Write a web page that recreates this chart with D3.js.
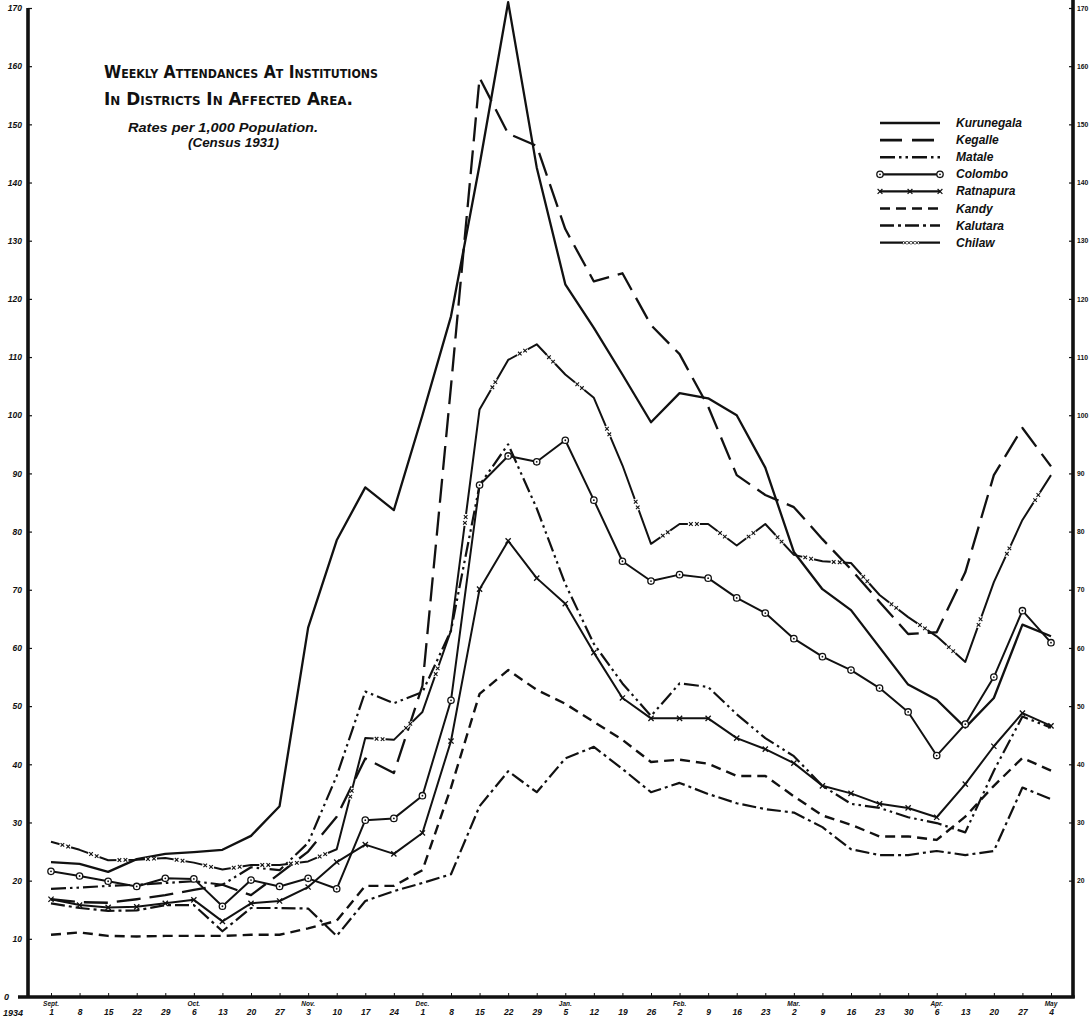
<!DOCTYPE html>
<html>
<head>
<meta charset="utf-8">
<script src="https://cdn.jsdelivr.net/npm/d3@7"></script>
<style>
  html, body { margin: 0; padding: 0; background: #fff; }
  svg { display: block; }
</style>
</head>
<body>
<svg id="chart" width="1090" height="1018"></svg>
<script>
// Week-ending dates, 1 Sept 1934 to 4 May 1935
const dayLabels = ['1','8','15','22','29','6','13','20','27','3','10','17','24','1','8','15','22','29',
  '5','12','19','26','2','9','16','23','2','9','16','23','30','6','13','20','27','4'];
const monthLabels = ['Sept.','Oct.','Nov.','Dec.','Jan.','Feb.','Mar.','Apr.','May'];
const monthStarts = [0, 5, 9, 13, 18, 22, 26, 31, 35];
const yTicks = [0,10,20,30,40,50,60,70,80,90,100,110,120,130,140,150,160,170];

// Weekly attendances per 1,000 population, by district
const kurunegala = [23.2,22.9,21.5,23.7,24.6,24.9,25.3,27.7,32.8,63.5,78.5,87.6,83.7,100,117,143,171,142.6,
  122.5,115,107,98.8,103.8,102.9,100,91,76.5,70.1,66.5,60.1,53.7,51.1,46.3,51.4,64,62];
const kegalle = [16.8,16.3,16.2,16.8,17.5,18.4,19.3,17.5,21.2,25,31,41,38.5,53.5,105,158,148.4,146.3,
  132,123,124.4,115.5,110.5,101.5,89.7,86.3,84.2,78.7,73.5,67.9,62.4,62.7,73,89.7,97.8,91.2];
const matale = [18.6,18.8,19.1,19.3,19.6,19.9,19.3,22.3,21.8,26.5,38,52.5,50.5,52.4,63,88,95,84,
  71,60.7,53.9,48.3,53.9,53.3,48.6,44.5,41.4,36.3,33.2,32.5,30.9,29.9,28.3,38.9,48.2,46.3];
const colombo = [21.6,20.8,19.9,19.0,20.4,20.3,15.6,20.1,19.0,20.4,18.6,30.4,30.7,34.6,51,88,93,92,
  95.7,85.4,74.9,71.5,72.6,72,68.6,66,61.6,58.5,56.2,53.1,49,41.5,46.9,55,66.4,60.9];
const ratnapura = [16.8,15.8,15.4,15.5,16.1,16.7,13.0,16.1,16.5,18.9,23.2,26.2,24.6,28.2,44,70.1,78.4,72,
  67.6,59.2,51.4,47.9,47.9,47.9,44.5,42.6,40.2,36.3,35,33.2,32.5,30.9,36.6,43.1,48.8,46.6];
const kandy = [10.7,11.1,10.5,10.4,10.5,10.5,10.5,10.7,10.7,11.8,13.1,19.1,19.1,21.8,36,52.1,56.2,52.8,
  50.4,47.3,44.2,40.4,40.8,40.1,38,38,34.5,31.2,29.6,27.6,27.6,27,31,36.3,41.1,38.9];
const kalutara = [16.1,15.3,14.8,14.9,15.8,15.8,11.3,15.3,15.3,15.2,10.5,16.5,18.2,19.6,21.1,32.8,38.8,35.2,
  41,43,39.2,35.2,36.8,34.9,33.3,32.3,31.7,29.2,25.4,24.4,24.4,25.1,24.4,25.1,36,34];
const chilaw = [26.7,25.3,23.5,23.6,23.9,23.1,21.9,22.7,22.7,23.3,25.4,44.5,44.2,49,63,101,109.5,112.2,
  107,103,91.4,77.9,81.3,81.3,77.6,81.3,76,74.9,74.6,69.1,65.3,62,57.6,71.3,82,89.7];

const districtNames = ['Kurunegala','Kegalle','Matale','Colombo','Ratnapura','Kandy','Kalutara','Chilaw'];
const districtValues = [kurunegala, kegalle, matale, colombo, ratnapura, kandy, kalutara, chilaw];

// Pen style for each district
const styles = {
  Kurunegala: { dash: null,               width: 2.3, marker: null },
  Kegalle:    { dash: '24,9',             width: 2.3, marker: null },
  Matale:     { dash: '15,4,2.5,4,2.5,4', width: 2.2, marker: null },
  Colombo:    { dash: null,               width: 2.0, marker: 'circle' },
  Ratnapura:  { dash: null,               width: 2.0, marker: 'cross' },
  Kandy:      { dash: '10,6',             width: 2.4, marker: null },
  Kalutara:   { dash: '14,4,3,4',         width: 2.2, marker: null },
  Chilaw:     { dash: null,               width: 2.0, marker: 'pair' }
};

const svg = d3.select('#chart');
const ink = '#111';

const x = d3.scalePoint().domain(d3.range(dayLabels.length)).range([51, 1051]);
const y = d3.scaleLinear().domain([0, 170]).range([997, 8]);

const labelFont = '"Liberation Sans", Arial, sans-serif';
const leftX = 28, rightX = 1073;

// ---- Left axis ----
const leftAxis = svg.append('g')
  .attr('transform', `translate(${leftX},0)`)
  .call(d3.axisLeft(y).tickValues(yTicks.filter(v => v > 0)).tickSize(-4).tickSizeOuter(0).tickPadding(6));
leftAxis.select('.domain').remove();
leftAxis.selectAll('.tick line').attr('stroke', ink).attr('stroke-width', 1.2);
leftAxis.selectAll('.tick text')
  .attr('font-family', labelFont).attr('font-size', 8.5).attr('font-weight', 'bold')
  .attr('font-style', 'italic').attr('fill', ink);
svg.append('line').attr('x1', leftX).attr('x2', leftX).attr('y1', y(170)).attr('y2', y(0) + 1)
  .attr('stroke', ink).attr('stroke-width', 3.6);

// ---- Right axis ----
const rightAxis = svg.append('g')
  .attr('transform', `translate(${rightX},0)`)
  .call(d3.axisRight(y).tickValues(yTicks.filter(v => v >= 20)).tickSize(-4).tickSizeOuter(0).tickPadding(4));
rightAxis.select('.domain').remove();
rightAxis.selectAll('.tick line').attr('stroke', ink).attr('stroke-width', 1.2);
rightAxis.selectAll('.tick text')
  .attr('font-family', labelFont).attr('font-size', 6.8).attr('font-weight', 'bold').attr('fill', ink);
svg.append('line').attr('x1', rightX).attr('x2', rightX).attr('y1', 0).attr('y2', y(0) + 1)
  .attr('stroke', ink).attr('stroke-width', 3.6);

// ---- Bottom axis (weeks) ----
const bottomAxis = svg.append('g')
  .attr('transform', `translate(0,${y(0)})`)
  .call(d3.axisBottom(x).tickSize(-4).tickSizeOuter(0).tickPadding(12)
    .tickFormat(i => dayLabels[i]));
bottomAxis.select('.domain').remove();
bottomAxis.selectAll('.tick line').attr('stroke', ink).attr('stroke-width', 1);
bottomAxis.selectAll('.tick text')
  .attr('font-family', labelFont).attr('font-size', 8.5).attr('font-weight', 'bold')
  .attr('font-style', 'italic').attr('fill', ink);
svg.append('line').attr('x1', 18).attr('x2', rightX + 1.8).attr('y1', y(0)).attr('y2', y(0))
  .attr('stroke', ink).attr('stroke-width', 3.6);

svg.append('g').selectAll('text').data(monthStarts).join('text')
  .attr('x', i => x(i)).attr('y', y(0) + 9)
  .attr('text-anchor', 'middle')
  .attr('font-family', labelFont).attr('font-size', 6.5).attr('font-weight', 'bold')
  .attr('font-style', 'italic').attr('fill', ink)
  .text((i, k) => monthLabels[k]);

svg.append('text').attr('x', 4).attr('y', y(0) + 3)
  .attr('font-family', labelFont).attr('font-size', 9).attr('font-weight', 'bold')
  .attr('font-style', 'italic').attr('fill', ink).text('0');
svg.append('text').attr('x', 3).attr('y', y(0) + 19)
  .attr('font-family', labelFont).attr('font-size', 9).attr('font-weight', 'bold')
  .attr('font-style', 'italic').attr('fill', ink).text('1934');

// ---- Title ----
const titleFont = '"DejaVu Sans", Verdana, sans-serif';
svg.append('text').attr('x', 104).attr('y', 78)
  .attr('font-family', titleFont).attr('font-size', 17).attr('font-weight', 'bold')
  .style('font-variant', 'small-caps').attr('fill', ink)
  .attr('textLength', 274).attr('lengthAdjust', 'spacingAndGlyphs')
  .text('Weekly Attendances At Institutions');
svg.append('text').attr('x', 104).attr('y', 105)
  .attr('font-family', titleFont).attr('font-size', 17).attr('font-weight', 'bold')
  .style('font-variant', 'small-caps').attr('fill', ink)
  .attr('textLength', 249).attr('lengthAdjust', 'spacingAndGlyphs')
  .text('In Districts In Affected Area.');
svg.append('text').attr('x', 128).attr('y', 132)
  .attr('font-family', labelFont).attr('font-size', 12.5).attr('font-style', 'italic')
  .attr('font-weight', 'bold').attr('fill', ink)
  .attr('textLength', 190).attr('lengthAdjust', 'spacingAndGlyphs')
  .text('Rates per 1,000 Population.');
svg.append('text').attr('x', 188).attr('y', 147)
  .attr('font-family', labelFont).attr('font-size', 12.5).attr('font-style', 'italic')
  .attr('font-weight', 'bold').attr('fill', ink)
  .attr('textLength', 91).attr('lengthAdjust', 'spacingAndGlyphs')
  .text('(Census 1931)');

// ---- Markers ----
function drawCross(g, cx, cy, r, sw) {
  g.append('path')
    .attr('d', `M${cx - r},${cy - r}L${cx + r},${cy + r}M${cx - r},${cy + r}L${cx + r},${cy - r}`)
    .attr('stroke', ink).attr('stroke-width', sw).attr('fill', 'none');
}
function drawCircle(g, cx, cy) {
  g.append('circle').attr('cx', cx).attr('cy', cy).attr('r', 3.2)
    .attr('fill', '#fff').attr('stroke', ink).attr('stroke-width', 1.3);
  g.append('circle').attr('cx', cx).attr('cy', cy).attr('r', 0.9).attr('fill', ink);
}

// ---- District lines ----
const line = d3.line().x((d, i) => x(i)).y(d => y(d));
const plot = svg.append('g');

districtNames.forEach((name, k) => {
  const vals = districtValues[k];
  const st = styles[name];
  const g = plot.append('g');
  g.append('path').datum(vals)
    .attr('d', line)
    .attr('fill', 'none').attr('stroke', ink)
    .attr('stroke-width', st.width)
    .attr('stroke-linejoin', 'round')
    .attr('stroke-dasharray', st.dash);
  if (st.marker === 'circle') {
    vals.forEach((v, i) => drawCircle(g, x(i), y(v)));
  } else if (st.marker === 'cross') {
    vals.forEach((v, i) => drawCross(g, x(i), y(v), 2.6, 1.3));
  } else if (st.marker === 'pair') {
    for (let i = 0; i < vals.length - 1; i++) {
      const x0 = x(i), y0 = y(vals[i]), x1 = x(i + 1), y1 = y(vals[i + 1]);
      const len = Math.hypot(x1 - x0, y1 - y0);
      const ux = (x1 - x0) / len, uy = (y1 - y0) / len;
      const mx = (x0 + x1) / 2, my = (y0 + y1) / 2;
      g.append('line').attr('x1', mx - ux * 6).attr('y1', my - uy * 6)
        .attr('x2', mx + ux * 6).attr('y2', my + uy * 6)
        .attr('stroke', '#fff').attr('stroke-width', 3);
      drawCross(g, mx - ux * 3, my - uy * 3, 1.8, 1.1);
      drawCross(g, mx + ux * 3, my + uy * 3, 1.8, 1.1);
    }
  }
});

// ---- Legend ----
const legend = svg.append('g');
const legendTop = 123, legendStep = 17.1, lx0 = 880, lx1 = 940;
districtNames.forEach((name, k) => {
  const st = styles[name];
  const ly = legendTop + k * legendStep;
  const g = legend.append('g');
  g.append('line').attr('x1', lx0).attr('x2', lx1).attr('y1', ly).attr('y2', ly)
    .attr('stroke', ink).attr('stroke-width', st.width + 0.3)
    .attr('stroke-dasharray', name === 'Kegalle' ? '22,10' : st.dash);
  if (st.marker === 'circle') {
    drawCircle(g, lx0, ly); drawCircle(g, lx1, ly);
  } else if (st.marker === 'cross') {
    drawCross(g, lx0, ly, 2.4, 1.2);
    drawCross(g, (lx0 + lx1) / 2, ly, 2.4, 1.2);
    drawCross(g, lx1, ly, 2.4, 1.2);
  } else if (st.marker === 'pair') {
    g.append('line').attr('x1', 903).attr('x2', 919).attr('y1', ly).attr('y2', ly)
      .attr('stroke', '#fff').attr('stroke-width', 3);
    [905, 909, 913, 917].forEach(cx => drawCross(g, cx, ly, 1.6, 1));
  }
  g.append('text').attr('x', 956).attr('y', ly + 4)
    .attr('font-family', labelFont).attr('font-size', 12).attr('font-style', 'italic')
    .attr('font-weight', 'bold').attr('fill', ink)
    .text(name);
});
</script>
</body>
</html>
